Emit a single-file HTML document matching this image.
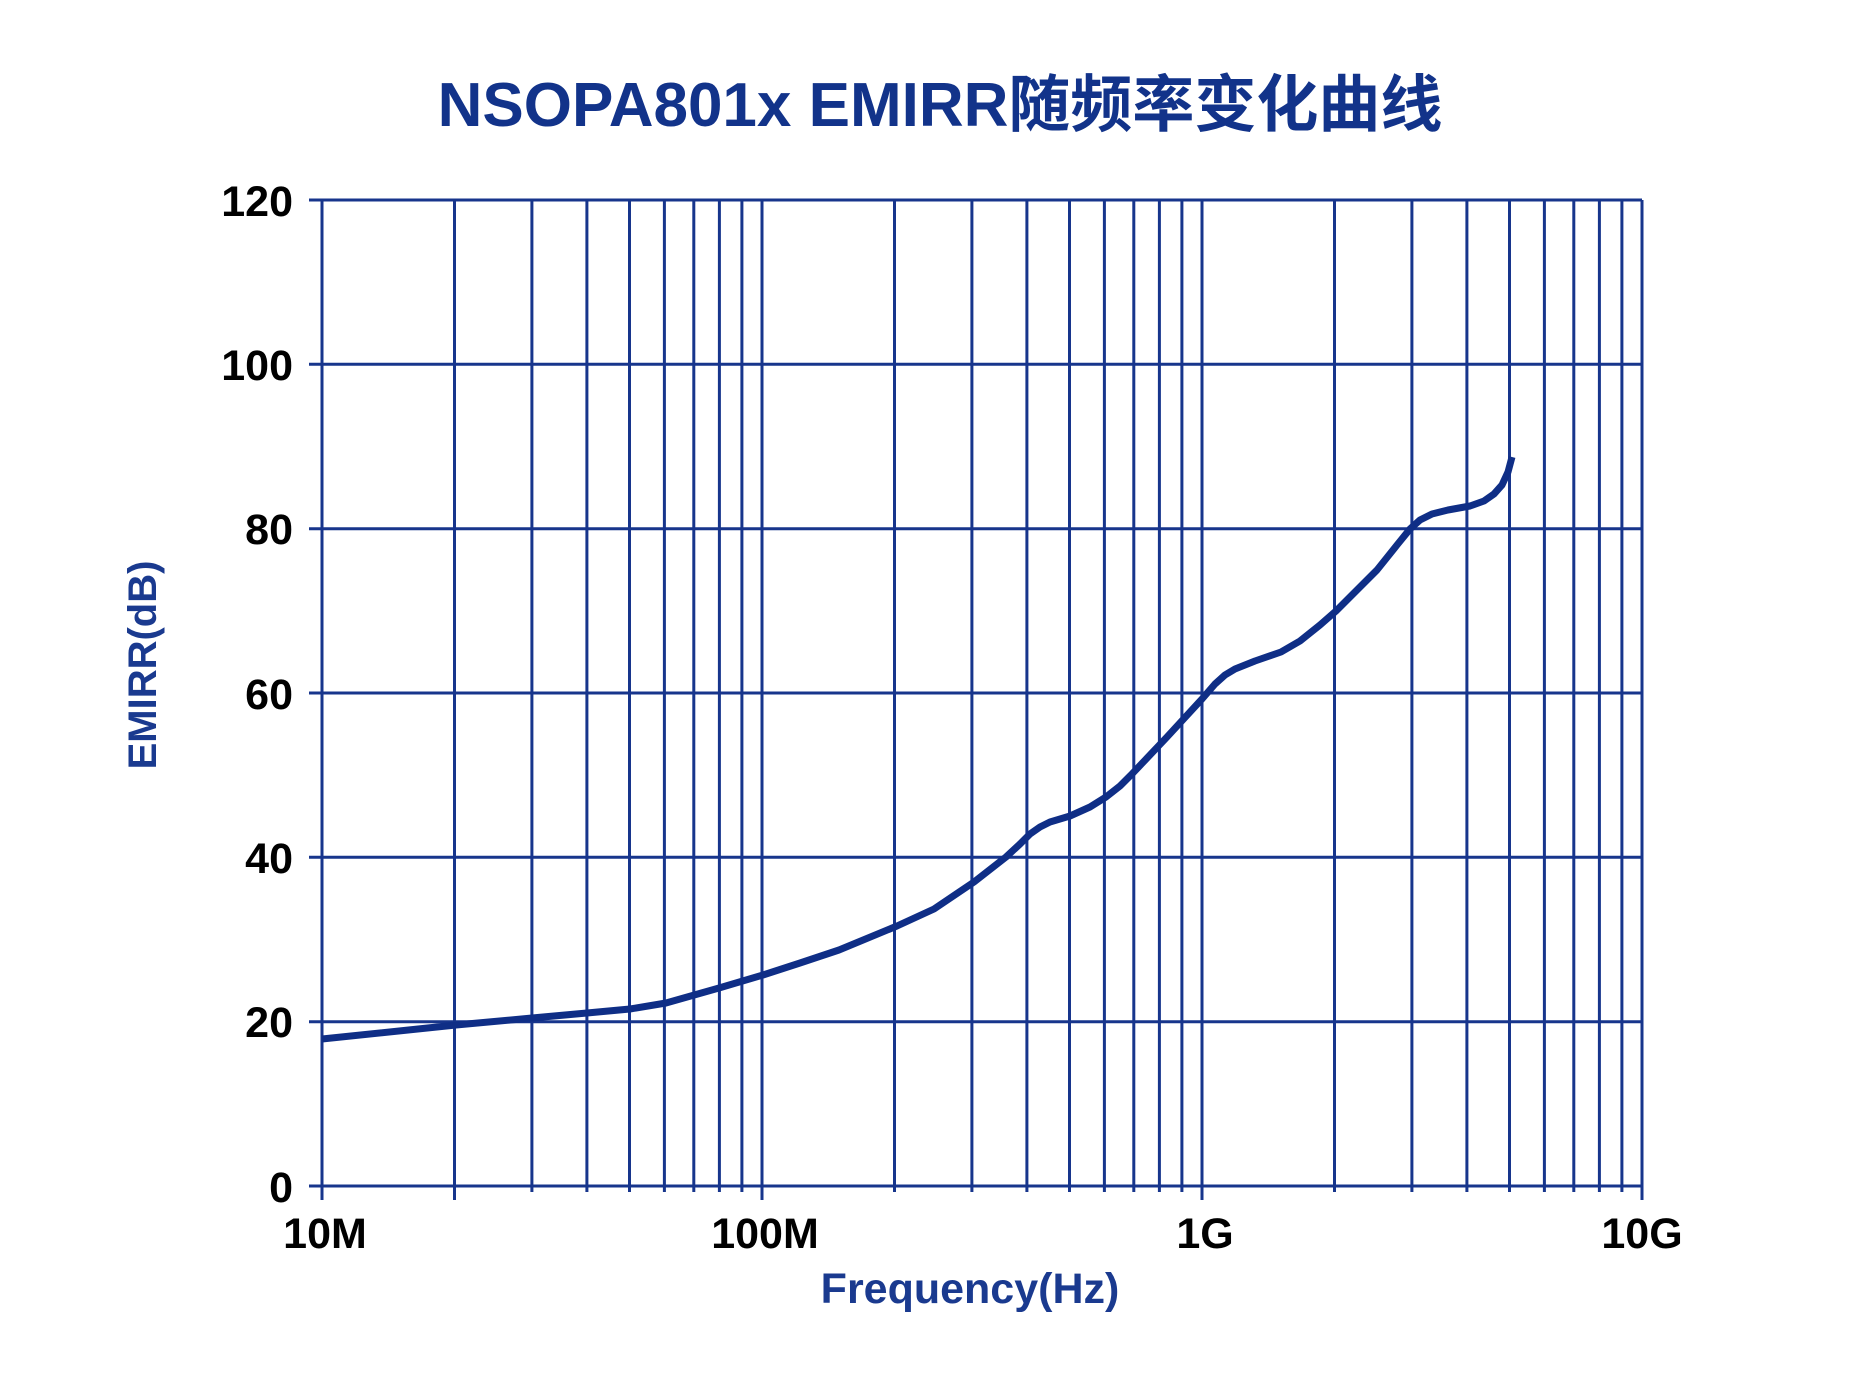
<!DOCTYPE html>
<html><head><meta charset="utf-8"><style>
html,body{margin:0;padding:0;background:#fff;}
svg{display:block;}
</style></head><body>
<svg width="1876" height="1374" viewBox="0 0 1876 1374" xmlns="http://www.w3.org/2000/svg">
<rect width="1876" height="1374" fill="#fff"/>
<text x="940" y="126" text-anchor="middle" font-family="'Liberation Sans','Noto Sans CJK SC',sans-serif" font-weight="bold" font-size="62" fill="#12338a">NSOPA801x EMIRR随频率变化曲线</text>
<g stroke="#17358c" stroke-width="3" fill="none">
<line x1="309" y1="200" x2="1642" y2="200"/>
<line x1="309" y1="364.3" x2="1642" y2="364.3"/>
<line x1="309" y1="528.7" x2="1642" y2="528.7"/>
<line x1="309" y1="693" x2="1642" y2="693"/>
<line x1="309" y1="857.3" x2="1642" y2="857.3"/>
<line x1="309" y1="1021.7" x2="1642" y2="1021.7"/>
<line x1="309" y1="1186" x2="1642" y2="1186"/>
<line x1="322" y1="200" x2="322" y2="1200"/>
<line x1="454.5" y1="200" x2="454.5" y2="1200"/>
<line x1="531.9" y1="200" x2="531.9" y2="1192"/>
<line x1="586.9" y1="200" x2="586.9" y2="1192"/>
<line x1="629.5" y1="200" x2="629.5" y2="1192"/>
<line x1="664.4" y1="200" x2="664.4" y2="1192"/>
<line x1="693.8" y1="200" x2="693.8" y2="1192"/>
<line x1="719.4" y1="200" x2="719.4" y2="1192"/>
<line x1="741.9" y1="200" x2="741.9" y2="1192"/>
<line x1="762" y1="200" x2="762" y2="1200"/>
<line x1="894.5" y1="200" x2="894.5" y2="1192"/>
<line x1="971.9" y1="200" x2="971.9" y2="1192"/>
<line x1="1026.9" y1="200" x2="1026.9" y2="1192"/>
<line x1="1069.5" y1="200" x2="1069.5" y2="1192"/>
<line x1="1104.4" y1="200" x2="1104.4" y2="1192"/>
<line x1="1133.8" y1="200" x2="1133.8" y2="1192"/>
<line x1="1159.4" y1="200" x2="1159.4" y2="1192"/>
<line x1="1181.9" y1="200" x2="1181.9" y2="1192"/>
<line x1="1202" y1="200" x2="1202" y2="1200"/>
<line x1="1334.5" y1="200" x2="1334.5" y2="1192"/>
<line x1="1411.9" y1="200" x2="1411.9" y2="1192"/>
<line x1="1466.9" y1="200" x2="1466.9" y2="1192"/>
<line x1="1509.5" y1="200" x2="1509.5" y2="1192"/>
<line x1="1544.4" y1="200" x2="1544.4" y2="1192"/>
<line x1="1573.8" y1="200" x2="1573.8" y2="1192"/>
<line x1="1599.4" y1="200" x2="1599.4" y2="1192"/>
<line x1="1621.9" y1="200" x2="1621.9" y2="1192"/>
<line x1="1642" y1="200" x2="1642" y2="1200"/>
</g>
<polyline fill="none" stroke="#0f2e86" stroke-width="7" stroke-linejoin="round" stroke-linecap="butt"
points="322,1039 456,1025 532,1018 587,1013 630,1009 666,1003 719,988 763,975 800,963 839,950 897,926 934,909 974,882 1006,857 1020,844 1030,834 1040,827 1050,822 1070,816 1090,807 1106,797 1120,786 1131,775 1167,737 1202,699 1215,684 1225,675 1235,669 1255,661 1281,652 1300,641 1320,625 1336,611 1357,590 1377,570 1397,545 1410,529 1420,520 1432,514 1448,510 1470,506 1484,501 1494,494 1502,485 1508,472 1512,457"/>
<g font-family="'Liberation Sans',sans-serif" font-weight="bold" font-size="43" fill="#000" text-anchor="end">
<text x="293" y="216">120</text>
<text x="293" y="380">100</text>
<text x="293" y="544">80</text>
<text x="293" y="709">60</text>
<text x="293" y="873">40</text>
<text x="293" y="1037">20</text>
<text x="293" y="1202">0</text>
</g>
<g font-family="'Liberation Sans',sans-serif" font-weight="bold" font-size="43" fill="#000" text-anchor="middle">
<text x="325" y="1248">10M</text>
<text x="765" y="1248">100M</text>
<text x="1205" y="1248">1G</text>
<text x="1642" y="1248">10G</text>
</g>
<text x="970" y="1303" text-anchor="middle" font-family="'Liberation Sans',sans-serif" font-weight="bold" font-size="43" fill="#1a3a8f">Frequency(Hz)</text>
<text transform="translate(156,665) rotate(-90)" text-anchor="middle" font-family="'Liberation Sans',sans-serif" font-weight="bold" font-size="40" fill="#1a3a8f">EMIRR(dB)</text>
</svg>
</body></html>
